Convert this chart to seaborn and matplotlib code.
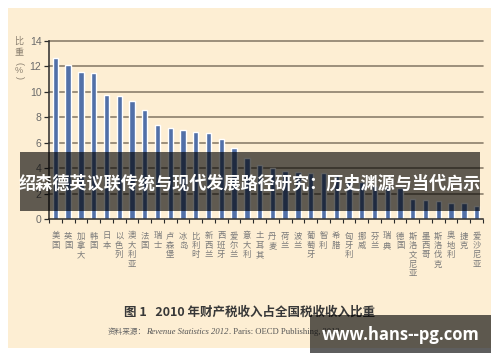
import numpy as np
import pandas as pd
import matplotlib
matplotlib.use("Agg")
import matplotlib.pyplot as plt
import seaborn as sns
from matplotlib.patches import Rectangle

countries = ["美国", "英国", "加拿大", "韩国", "日本", "以色列", "澳大利亚", "法国",
             "瑞士", "卢森堡", "冰岛", "比利时", "新西兰", "西班牙", "爱尔兰", "意大利",
             "土耳其", "丹麦", "荷兰", "波兰", "葡萄牙", "智利", "希腊", "匈牙利",
             "挪威", "芬兰", "瑞典", "德国", "斯洛文尼亚", "墨西哥", "斯洛伐克", "奥地利",
             "捷克", "爱沙尼亚"]
values = [12.7, 12.1, 11.55, 11.45, 9.75, 9.65, 9.3, 8.55,
          7.4, 7.15, 7.0, 6.85, 6.75, 6.3, 5.55, 4.77,
          4.27, 4.0, 3.75, 3.7, 3.65, 3.6, 3.4, 3.0,
          2.9, 2.6, 2.5, 2.4, 1.55, 1.5, 1.44, 1.28,
          1.24, 1.02]
yticks = [0, 2, 4, 6, 8, 10, 12, 14]
ylabel_chars = ["比", "重", "(", "%", ")"]
caption = "图 1   2010 年财产税收入占全国税收收入比重"
source_cn = "资料来源："
source_it = "Revenue Statistics 2012"
source_rest = ". Paris: OECD Publishing, 2012"
banner = "绍森德英议联传统与现代发展路径研究：历史渊源与当代启示"
watermark = "www.hans--pg.com"

sns.set_theme(style="white")
plt.rcParams["font.family"] = ["Noto Sans CJK SC", "DejaVu Sans"]

W, H = 500, 362
fig = plt.figure(figsize=(5.0, 3.62), dpi=100, facecolor="white")


def fx(x):
    return x / W


def fy(y):
    return 1 - y / H


# beige panel
fig.patches.append(Rectangle((fx(8), fy(348)), fx(491) - fx(8), fy(8) - fy(348),
                             transform=fig.transFigure, facecolor="#FDEED3",
                             edgecolor="none", zorder=-10))

ax = fig.add_axes([fx(49), fy(219), fx(483) - fx(49), fy(41) - fy(219)])
ax.set_facecolor("none")

df = pd.DataFrame({"country": countries, "value": values})
sns.barplot(data=df, x="country", y="value", color="#5270A8", saturation=1,
            width=0.42, ax=ax, zorder=2)

ax.set_xlim(-0.42, 33.5)
ax.set_ylim(0, 14)

for t in yticks[1:]:
    ax.axhline(t, color="#8C7F6C", lw=1.2, zorder=1, clip_on=False)

for s in ["top", "right"]:
    ax.spines[s].set_visible(False)
for s in ["left", "bottom"]:
    ax.spines[s].set_color("#2b2b2b")
    ax.spines[s].set_linewidth(1.1)
    ax.spines[s].set_zorder(3)

ax.set_yticks(yticks)
ax.set_yticklabels([str(t) for t in yticks], fontsize=7.5, color="#6a6a6a",
                   family="Liberation Sans")
ax.tick_params(axis="y", which="major", left=True, length=3.5, width=0.9,
               color="#2b2b2b", pad=2)

ax.set_xticks(range(len(countries)))
ax.set_xticklabels(["\n".join(c) for c in countries], fontsize=6, color="#7a7a7a",
                   linespacing=1.05, va="top")
ax.tick_params(axis="x", which="major", bottom=True, length=0, pad=9)
ax.set_xticks(np.arange(-0.5, len(countries), 1), minor=True)
ax.tick_params(axis="x", which="minor", bottom=True, length=3, width=0.8,
               color="#2b2b2b", direction="out")
ax.set_xlabel("")
ax.set_ylabel("")

# vertical y-axis label (parentheses turned for vertical writing)
ys = [41, 52.5, 63, 70.5, 78]
rots = [0, 0, -90, 0, -90]
for ch, yy, r in zip(ylabel_chars, ys, rots):
    fam = "Liberation Sans" if ch in "()%" else None
    fig.text(fx(19), fy(yy), ch, ha="center", va="center", fontsize=6.5,
             color="#8B8070", rotation=r, family=fam)

# caption
fig.text(fx(250), fy(312), caption, ha="center", va="center", fontsize=9,
         fontweight="bold", color="#383838")

# source line built from pieces
fig.canvas.draw()
renderer = fig.canvas.get_renderer()
t1 = fig.text(fx(108), fy(332), source_cn, ha="left", va="center", fontsize=5.5,
              color="#666666")
bb = t1.get_window_extent(renderer)
t2 = fig.text(bb.x1 / fig.bbox.width, fy(332), source_it, ha="left", va="center",
              fontsize=6.2, color="#555555", family="Liberation Serif", style="italic")
bb = t2.get_window_extent(renderer)
fig.text(bb.x1 / fig.bbox.width, fy(332), source_rest, ha="left", va="center",
         fontsize=6.2, color="#555555", family="Liberation Serif")

# banner overlay
fig.patches.append(Rectangle((fx(20), fy(211)), fx(480) - fx(20), fy(152) - fy(211),
                             transform=fig.transFigure, facecolor="black",
                             alpha=0.62, edgecolor="none", zorder=5))
fig.text(fx(250), fy(184), banner, ha="center", va="center", fontsize=12.3,
         fontweight="bold", color="white", zorder=6)

# watermark
fig.patches.append(Rectangle((fx(310), fy(353)), fx(491) - fx(310), fy(315) - fy(353),
                             transform=fig.transFigure, facecolor="black",
                             alpha=0.63, edgecolor="none", zorder=5))
fig.text(fx(401), fy(335), watermark, ha="center", va="center", fontsize=12,
         fontweight="bold", color="white", family="Open Sans", zorder=6)

fig.savefig("out.png", dpi=100, facecolor="white")
